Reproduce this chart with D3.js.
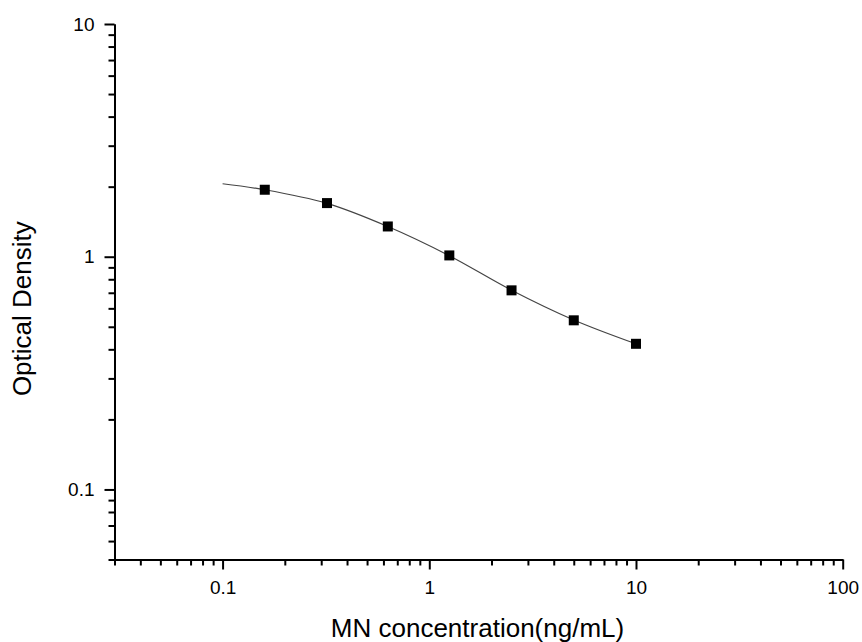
<!DOCTYPE html>
<meta charset="utf-8">
<style>
    body { margin: 0; background: #fff; }
    svg text { font-family: "Liberation Sans", Arial, sans-serif; fill: #000; }
</style>
<div id="chart"></div>
<script src="https://d3js.org/d3.v7.min.js"></script>
<script>
    // standard points (concentration, OD)
    var concentrations = [0.16, 0.32, 0.63, 1.25, 2.5, 5, 10];
    var densities = [1.94, 1.70, 1.349, 1.013, 0.717, 0.533, 0.4225];

    // fitted curve
    var curveX = [0.1, 0.16, 0.32, 0.63, 1.25, 2.5, 5, 10];
    var curveY = [2.058, 1.94, 1.695, 1.348, 1.01, 0.718, 0.535, 0.4225];

    var xMajor = [0.1, 1, 10, 100];
    var yMajor = [0.1, 1, 10];
    var xLabels = ["0.1", "1", "10", "100"];
    var yLabels = ["0.1", "1", "10"];

    var width = 862, height = 642;

    var svg = d3.select("#chart").append("svg")
        .attr("width", width)
        .attr("height", height);

    var x = d3.scaleLog().domain([0.03, 100]).range([114.5, 842.7]);
    var y = d3.scaleLog().domain([0.05, 10]).range([559.5, 24]);

    // minor ticks: every integer step inside each decade
    function minorTicks(lo, hi) {
        var out = [];
        for (var p = -3; p <= 2; p++) {
            for (var k = 1; k < 10; k++) {
                var v = +(k * Math.pow(10, p)).toPrecision(6);
                if (v >= lo - 1e-9 && v <= hi + 1e-9 && k !== 1) out.push(v);
            }
        }
        return out;
    }

    // X axis
    var gx = svg.append("g").attr("transform", "translate(0,559.5)");
    gx.call(d3.axisBottom(x).tickValues(minorTicks(0.03, 100)).tickSize(6).tickSizeOuter(0).tickFormat(""));
    gx.append("g").call(d3.axisBottom(x).tickValues(xMajor).tickSize(10).tickSizeOuter(0).tickPadding(11)
        .tickFormat(function(d, i) { return xLabels[i]; }));

    // Y axis
    var gy = svg.append("g").attr("transform", "translate(114.5,0)");
    gy.call(d3.axisLeft(y).tickValues(minorTicks(0.05, 10)).tickSize(6).tickSizeOuter(0).tickFormat(""));
    gy.append("g").call(d3.axisLeft(y).tickValues(yMajor).tickSize(10).tickSizeOuter(0).tickPadding(10)
        .tickFormat(function(d, i) { return yLabels[i]; }));

    svg.selectAll(".domain, .tick line")
        .attr("stroke", "#000")
        .attr("stroke-width", 2);
    svg.selectAll(".tick text")
        .attr("font-size", 19)
        .attr("font-family", null);

    // fitted curve
    var line = d3.line()
        .x(function(d) { return x(d[0]); })
        .y(function(d) { return y(d[1]); })
        .curve(d3.curveCatmullRom);

    svg.append("path")
        .datum(d3.zip(curveX, curveY))
        .attr("fill", "none")
        .attr("stroke", "#444")
        .attr("stroke-width", 1.2)
        .attr("d", line);

    // points
    svg.selectAll("rect.pt")
        .data(d3.zip(concentrations, densities))
        .enter().append("rect")
        .attr("class", "pt")
        .attr("x", function(d) { return x(d[0]) - 5; })
        .attr("y", function(d) { return y(d[1]) - 5; })
        .attr("width", 10)
        .attr("height", 10)
        .attr("fill", "#000");

    // axis titles
    svg.append("text")
        .attr("x", 477.5)
        .attr("y", 637)
        .attr("text-anchor", "middle")
        .attr("font-size", 26)
        .text("MN concentration(ng/mL)");

    svg.append("text")
        .attr("transform", "translate(31,308.7) rotate(-90)")
        .attr("text-anchor", "middle")
        .attr("font-size", 26)
        .text("Optical Density");
</script>
